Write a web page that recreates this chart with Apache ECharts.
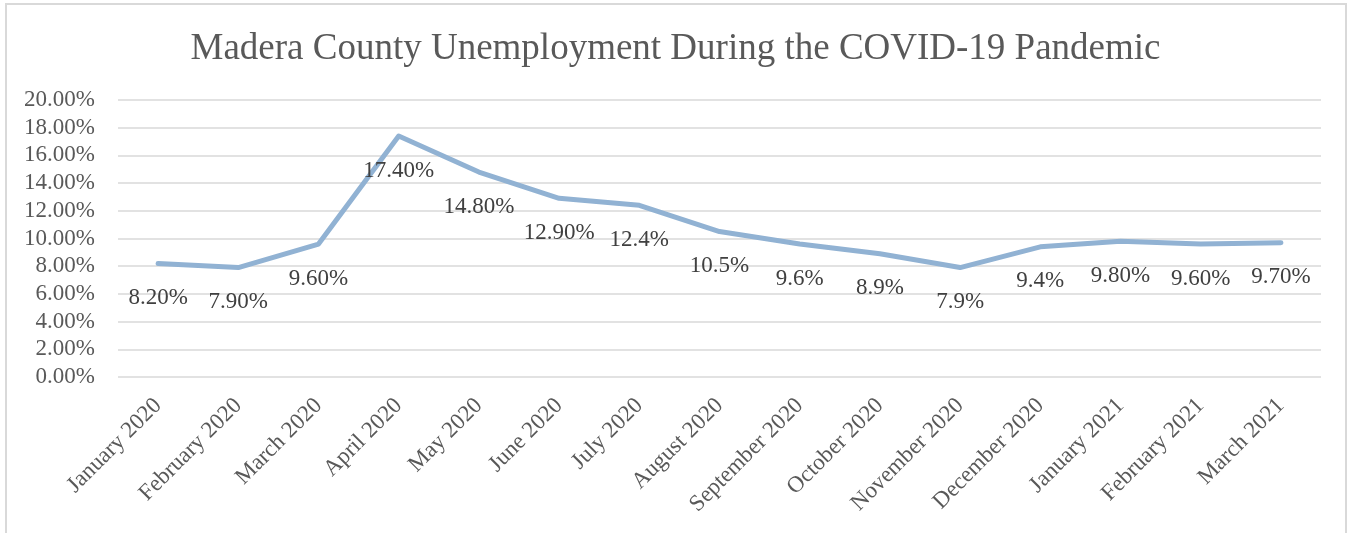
<!DOCTYPE html>
<html>
<head>
<meta charset="utf-8">
<script src="https://cdn.jsdelivr.net/npm/echarts@6/dist/echarts.min.js"></script>
<style>
  html, body { margin: 0; padding: 0; background: #fff; }
  #frame { position: absolute; left: 5px; top: 3px; width: 1342px; height: 540px; border: 2px solid #d9d9d9; box-sizing: border-box; }
  #chart { width: 1351px; height: 533px; position: absolute; left: 0; top: 0; }
</style>
</head>
<body>
<div id="frame"></div>
<div id="chart"></div>
<script>
// Monthly unemployment rate, Madera County
const months = [
  'January 2020', 'February 2020', 'March 2020', 'April 2020', 'May 2020',
  'June 2020', 'July 2020', 'August 2020', 'September 2020', 'October 2020',
  'November 2020', 'December 2020', 'January 2021', 'February 2021', 'March 2021'
];
const rates = [8.2, 7.9, 9.6, 17.4, 14.8, 12.9, 12.4, 10.5, 9.6, 8.9, 7.9, 9.4, 9.8, 9.6, 9.7];
// Labels as printed beside each point (mixed precision)
const rateLabels = ['8.20%', '7.90%', '9.60%', '17.40%', '14.80%', '12.90%', '12.4%', '10.5%',
  '9.6%', '8.9%', '7.9%', '9.4%', '9.80%', '9.60%', '9.70%'];

const serif = '"Liberation Serif", "Times New Roman", serif';
const chart = echarts.init(document.getElementById('chart'), null, { renderer: 'canvas' });
chart.setOption({
  animation: false,
  title: {
    text: 'Madera County Unemployment During the COVID-19 Pandemic',
    left: 'center',
    top: 26,
    textStyle: { fontFamily: serif, fontSize: 37, fontWeight: 'normal', color: '#595959' }
  },
  grid: { left: 118, right: 30, top: 100, bottom: 156 },
  xAxis: {
    type: 'category',
    data: months,
    boundaryGap: true,
    axisLine: { show: false },
    axisTick: { show: false },
    axisLabel: {
      rotate: 45, interval: 0, margin: 25,
      fontFamily: serif, fontSize: 23, color: '#595959'
    }
  },
  yAxis: {
    type: 'value',
    min: 0, max: 20, interval: 2,
    axisLine: { show: false },
    axisTick: { show: false },
    splitLine: { lineStyle: { color: '#d9d9d9', width: 1.5 } },
    axisLabel: {
      margin: 23,
      fontFamily: serif, fontSize: 23, color: '#595959',
      formatter: v => v.toFixed(2) + '%'
    }
  },
  series: [{
    type: 'line',
    data: rates,
    symbol: 'circle',
    symbolSize: 2,
    showSymbol: true,
    itemStyle: { color: 'rgba(0,0,0,0)', borderWidth: 0 },
    lineStyle: { color: '#91b2d3', width: 5, cap: 'round', join: 'round' },
    label: {
      show: true,
      position: 'bottom',
      distance: 22,
      fontFamily: serif, fontSize: 23, color: '#404040',
      formatter: p => rateLabels[p.dataIndex]
    },
    labelLayout: { hideOverlap: false }
  }]
});
</script>
</body>
</html>
